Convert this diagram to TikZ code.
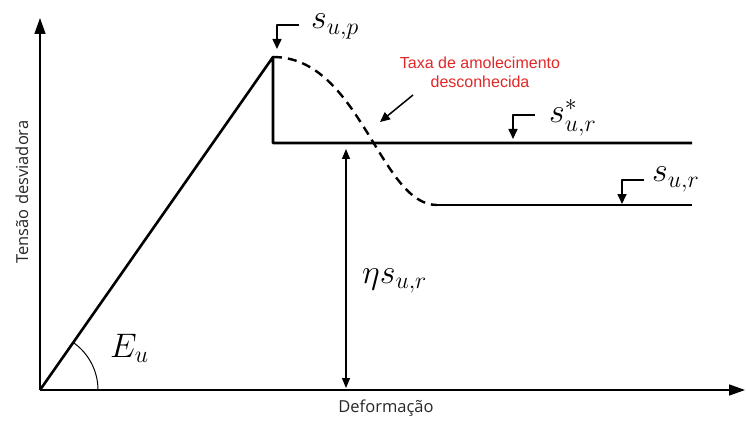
\RequirePackage{fix-cm}
\documentclass[tikz,border=0pt]{standalone}
\usepackage{fontspec}
\setsansfont{Open Sans}
\newfontfamily\notefont{Liberation Sans}
\usetikzlibrary{arrows.meta}
\definecolor{notered}{RGB}{225,40,40}
\definecolor{labelgray}{RGB}{40,40,40}

\begin{document}
\begin{tikzpicture}[x=1pt, y=-1pt, line join=round]
      \tikzstyle{every node} = [inner sep = 0pt];
      \tikzstyle{axisline} = [line width=1.6pt, -{Triangle[length=16pt,width=11pt]}];
      \tikzstyle{mainline} = [line width=2.6pt];
      \tikzstyle{softline} = [line width=2.4pt, dash pattern=on 9pt off 6pt];
      \tikzstyle{tagarrow} = [line width=1.6pt, -{Triangle[length=10pt,width=9pt]}];
      \tikzstyle{mathlbl} = [anchor=base west, font=\fontsize{34}{40}\selectfont];
      \tikzstyle{axislbl} = [font=\sffamily\fontsize{16.5}{19}\selectfont, text=labelgray];
      \fill[white] (0,0) rectangle (746,422);
      \useasboundingbox (0,0) rectangle (746,422);
      % axes
      \coordinate (O) at (40,390);
      \coordinate (ytop) at (40,18);
      \coordinate (xend) at (745,390);
      \draw[axisline] (O) -- (ytop);
      \draw[axisline] (O) -- (xend);
      % loading, drop and residual lines
      \coordinate (peak) at (273,57);
      \coordinate (drop) at (273,143);
      \coordinate (resend) at (692,143);
      \coordinate (soft) at (437,205);
      \coordinate (softend) at (692,205);
      \draw[mainline] (O) -- (peak) -- (drop) -- (resend);
      \draw[softline] (peak) .. controls (360,57) and (380,205) .. (soft);
      \draw[mainline] (soft) -- (softend);
      % eta s_ur span
      \coordinate (etatop) at (346,149);
      \coordinate (etabot) at (346,388);
      \draw[line width=1.2pt, {Triangle[length=10pt,width=8pt]}-{Triangle[length=10pt,width=8pt]}] (etatop) -- (etabot);
      % modulus angle
      \draw[line width=1pt] (O) ++(58,0) arc[start angle=0, end angle=-55, radius=58];
      % level markers
      \foreach \cx/\cy/\nm in {277/25/sup, 513/115/surs, 622/180/sur}{
        \coordinate (\nm a) at (\cx+22,\cy);
        \coordinate (\nm b) at (\cx,\cy);
        \coordinate (\nm c) at (\cx,\cy+24);
        \draw[tagarrow] (\nm a) -- (\nm b) -- (\nm c);
      }
      \node[mathlbl] (suplbl) at (311,29) {$s_{u,p}$};
      \node[mathlbl] (surslbl) at (549,123) {$s^{*}_{u,r}$};
      \node[mathlbl] (surlbl) at (652,182) {$s_{u,r}$};
      \node[mathlbl] (etalbl) at (362,283) {$\eta s_{u,r}$};
      \node[mathlbl] (eulbl) at (110,357) {$E_u$};
      % note on the softening
      \node[font=\notefont\fontsize{16}{19}\selectfont, text=notered, align=center] (rate) at (480,72) {Taxa de amolecimento\\desconhecida};
      \coordinate (ratetail) at (413,95);
      \coordinate (ratetip) at (380,122);
      \draw[line width=1.5pt, -{Triangle[length=10pt,width=9pt]}] (ratetail) -- (ratetip);
      % axis titles
      \node[axislbl, rotate=90] (ylab) at (22,192) {Tensão desviadora};
      \node[axislbl] (xlab) at (386,408) {Deformação};
\end{tikzpicture}
\end{document}
